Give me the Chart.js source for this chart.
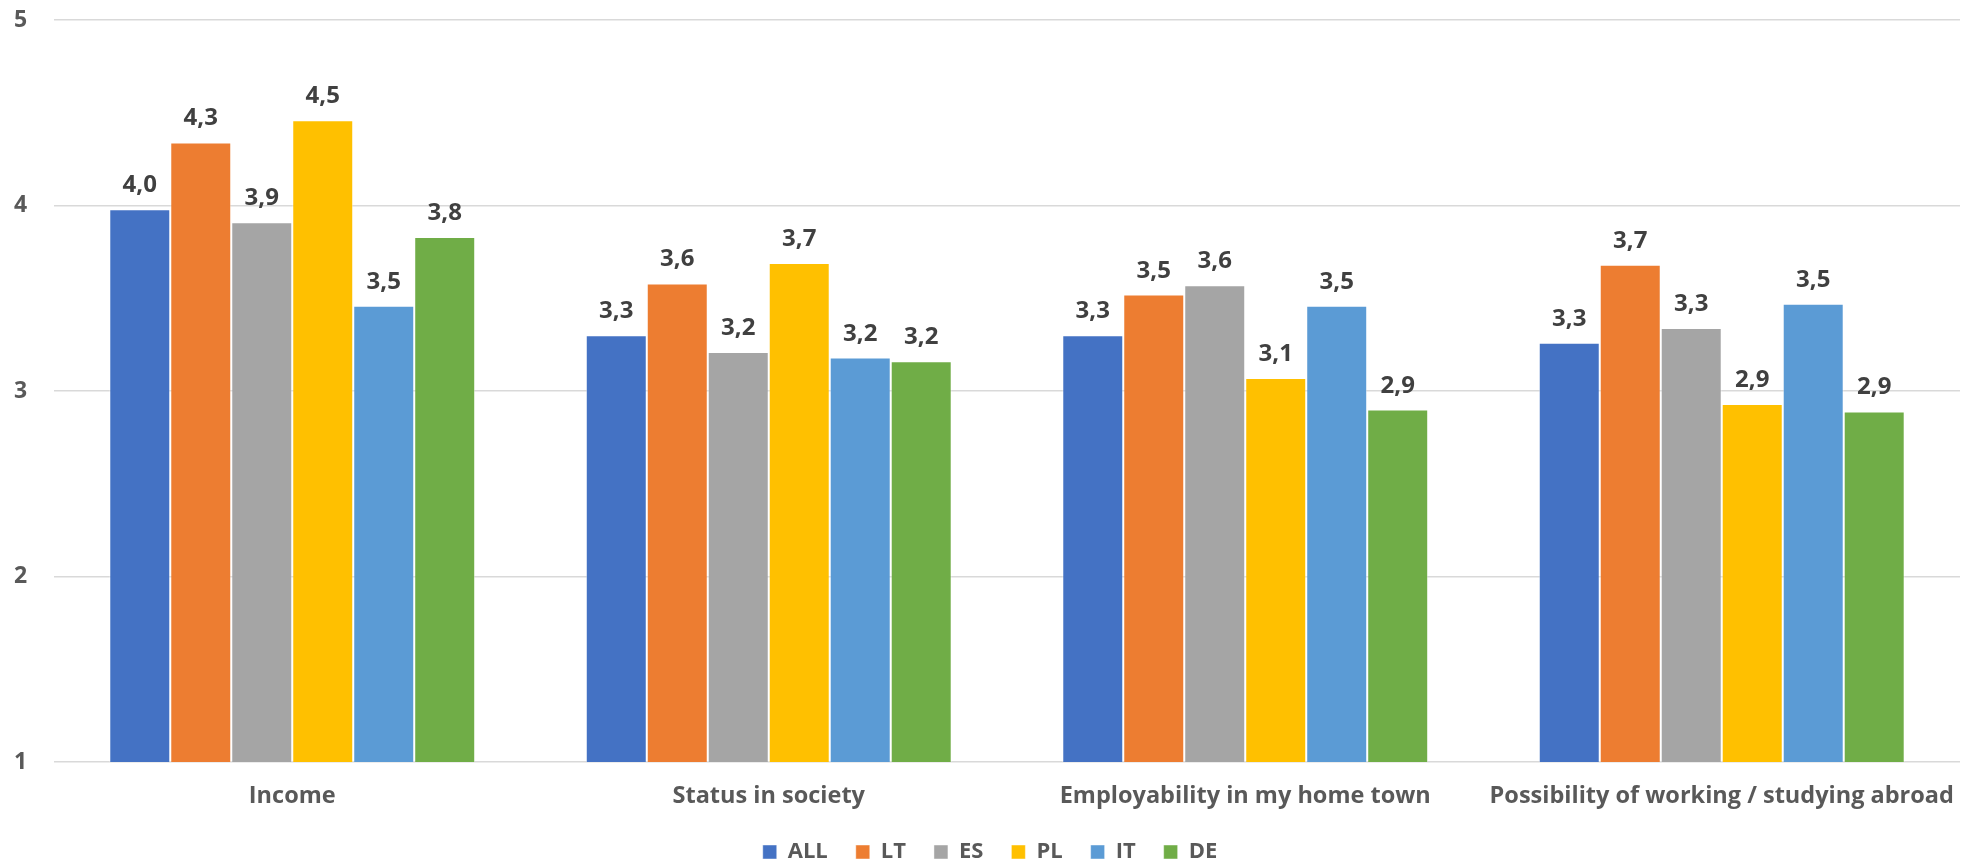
<!DOCTYPE html>
<html>
<head>
<meta charset="utf-8">
<title>Ratings by country</title>
<script src="https://cdn.jsdelivr.net/npm/chart.js@4.4.1/dist/chart.umd.min.js"></script>
<style>
  html, body { margin: 0; padding: 0; background: #fff; }
  #wrap { width: 1975px; height: 863px; }
</style>
</head>
<body>
<div id="wrap"><canvas id="grafico"></canvas></div>
<script>
const categorias = ["Income", "Status in society", "Employability in my home town", "Possibility of working / studying abroad"];
const paises = ["ALL", "LT", "ES", "PL", "IT", "DE"];

const valoresALL = [3.98, 3.30, 3.30, 3.26];
const valoresLT = [4.34, 3.58, 3.52, 3.68];
const valoresES = [3.91, 3.21, 3.57, 3.34];
const valoresPL = [4.46, 3.69, 3.07, 2.93];
const valoresIT = [3.46, 3.18, 3.46, 3.47];
const valoresDE = [3.83, 3.16, 2.90, 2.89];

const ticksY = [1, 2, 3, 4, 5];

const colores = ["#4472C4", "#ED7D31", "#A5A5A5", "#FFC000", "#5B9BD5", "#70AD47"];
const series = [valoresALL, valoresLT, valoresES, valoresPL, valoresIT, valoresDE];

const fuente = "'Open Sans', sans-serif";

// writes each bar's value above it, with a decimal comma
const etiquetasValor = {
  id: "etiquetasValor",
  afterDatasetsDraw(chart) {
    const ctx = chart.ctx;
    ctx.save();
    ctx.font = "bold 24px " + fuente;
    ctx.fillStyle = "#404040";
    ctx.textAlign = "center";
    ctx.textBaseline = "alphabetic";
    chart.data.datasets.forEach((ds, i) => {
      chart.getDatasetMeta(i).data.forEach((bar, j) => {
        const txt = ds.data[j].toFixed(1).replace(".", ",");
        ctx.fillText(txt, bar.x, bar.y - 17);
      });
    });
    ctx.restore();
  }
};

const datasets = paises.map((p, i) => ({
  label: p,
  data: series[i],
  backgroundColor: colores[i],
  borderColor: "rgba(255,255,255,0.45)",
  borderWidth: 1,
  categoryPercentage: 0.768,
  barPercentage: 1
}));

new Chart(document.getElementById("grafico"), {
  type: "bar",
  data: { labels: categorias, datasets: datasets },
  plugins: [etiquetasValor],
  options: {
    responsive: true,
    maintainAspectRatio: false,
    animation: false,
    layout: { padding: { top: 20, right: 9, left: 14, bottom: -10 } },
    plugins: {
      legend: {
        position: "bottom",
        labels: {
          boxWidth: 14,
          boxHeight: 14,
          padding: 28,
          color: "#595959",
          font: { family: fuente, size: 22, weight: "bold" }
        }
      },
      tooltip: { enabled: false }
    },
    scales: {
      x: {
        afterFit(scale) { scale.height = 51; },
        grid: { display: false, drawTicks: false },
        border: { display: false },
        ticks: {
          padding: 20,
          color: "#595959",
          font: { family: fuente, size: 23.5, weight: "bold" }
        }
      },
      y: {
        min: ticksY[0],
        max: ticksY[ticksY.length - 1],
        afterBuildTicks(scale) {
          scale.ticks = ticksY.map(v => ({ value: v }));
        },
        afterFit(scale) { scale.width = 40; },
        grid: { color: "#d9d9d9", lineWidth: 1.5, drawTicks: false },
        border: { display: false },
        ticks: {
          padding: 0,
          crossAlign: "far",
          color: "#595959",
          font: { family: fuente, size: 23, weight: "bold" }
        }
      }
    }
  }
});
</script>
</body>
</html>
